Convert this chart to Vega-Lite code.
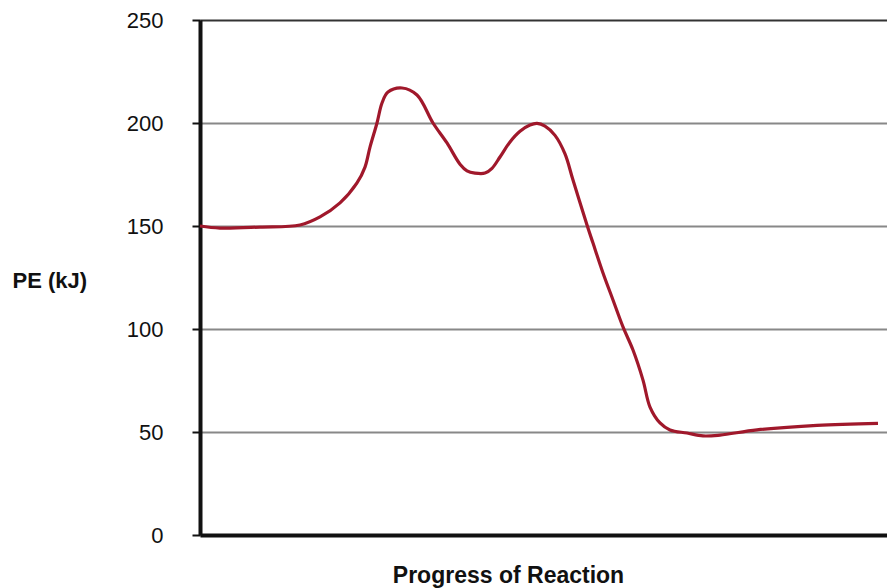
{
  "$schema": "https://vega.github.io/schema/vega-lite/v6.json",
  "width": 687,
  "height": 515,
  "autosize": {"type": "none"},
  "padding": {"left": 200, "top": 20, "right": 0, "bottom": 53},
  "background": "white",
  "config": {
    "view": {"stroke": null},
    "font": "Liberation Sans"
  },
  "data": {
    "values": [
      {"progress": 0, "pe": 150},
      {"progress": 20, "pe": 149},
      {"progress": 60, "pe": 149.5},
      {"progress": 100, "pe": 150.5},
      {"progress": 120, "pe": 154.4},
      {"progress": 140, "pe": 161.2},
      {"progress": 157, "pe": 170.9},
      {"progress": 165, "pe": 178.6},
      {"progress": 170, "pe": 188.3},
      {"progress": 177, "pe": 200},
      {"progress": 182, "pe": 209.7},
      {"progress": 188, "pe": 215},
      {"progress": 202, "pe": 217},
      {"progress": 217, "pe": 213.6},
      {"progress": 233, "pe": 200},
      {"progress": 247, "pe": 190.3},
      {"progress": 260, "pe": 180},
      {"progress": 267, "pe": 176.8},
      {"progress": 275, "pe": 175.7},
      {"progress": 285, "pe": 175.7},
      {"progress": 292, "pe": 178},
      {"progress": 300, "pe": 183.5},
      {"progress": 310, "pe": 190.8},
      {"progress": 320, "pe": 196},
      {"progress": 330, "pe": 199},
      {"progress": 337, "pe": 199.8},
      {"progress": 345, "pe": 198.5},
      {"progress": 355, "pe": 194},
      {"progress": 365, "pe": 185},
      {"progress": 373, "pe": 172.3},
      {"progress": 387, "pe": 150.5},
      {"progress": 393, "pe": 141.7},
      {"progress": 403, "pe": 127.2},
      {"progress": 413, "pe": 114.1},
      {"progress": 423, "pe": 101},
      {"progress": 433, "pe": 89.8},
      {"progress": 443, "pe": 75.2},
      {"progress": 450, "pe": 62.1},
      {"progress": 460, "pe": 54.4},
      {"progress": 470, "pe": 51},
      {"progress": 487, "pe": 49.5},
      {"progress": 503, "pe": 48.1},
      {"progress": 520, "pe": 48.5},
      {"progress": 557, "pe": 51},
      {"progress": 617, "pe": 53.2},
      {"progress": 678, "pe": 54.2}
    ]
  },
  "mark": {"type": "line", "interpolate": "catmull-rom", "color": "#a0182b", "strokeWidth": 3.2},
  "encoding": {
    "x": {
      "field": "progress",
      "type": "quantitative",
      "scale": {"domain": [0, 687], "nice": false, "zero": false},
      "axis": {
        "title": "Progress of Reaction",
        "labels": false,
        "ticks": false,
        "grid": false,
        "domainColor": "#111",
        "domainWidth": 4,
        "titleFontSize": 23,
        "titleFontWeight": "bold",
        "titleColor": "#111",
        "titleX": 308,
        "titleY": 47,
        "titleAlign": "center",
        "titleBaseline": "alphabetic"
      }
    },
    "y": {
      "field": "pe",
      "type": "quantitative",
      "scale": {"domain": [0, 250], "nice": false},
      "axis": {
        "title": "PE (kJ)",
        "values": [0, 50, 100, 150, 200, 250],
        "grid": true,
        "gridColor": {"condition": {"test": "datum.value === 250", "value": "#333333"}, "value": "#888888"},
        "gridWidth": 2,
        "gridOpacity": 1,
        "domainColor": "#111",
        "domainWidth": 4,
        "tickColor": "#111",
        "tickWidth": 2,
        "tickSize": 8,
        "labelFontSize": 22,
        "labelColor": "#111",
        "labelPadding": 29,
        "titleFontSize": 22,
        "titleFontWeight": "bold",
        "titleColor": "#111",
        "titleAngle": 0,
        "titleX": -188,
        "titleY": 267,
        "titleAlign": "left",
        "titleBaseline": "alphabetic"
      }
    }
  }
}
